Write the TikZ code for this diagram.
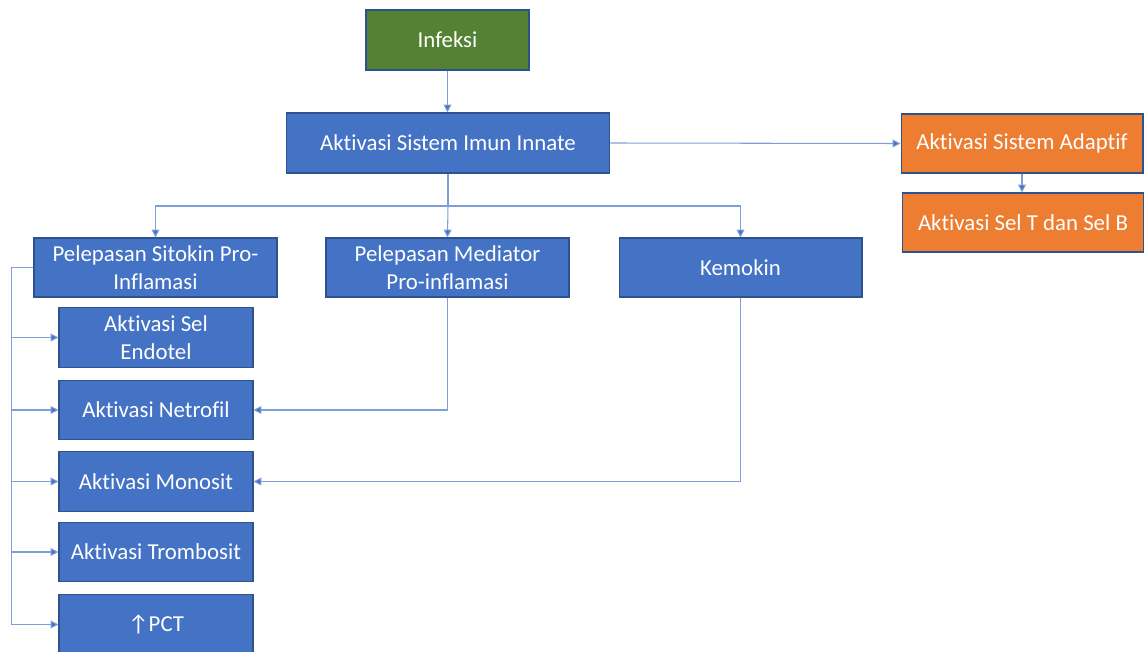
\documentclass[tikz,border=0pt]{standalone}
\usepackage{fontspec}
\setmainfont{Carlito}[RawFeature={-liga;-dlig;-clig}]
\usepackage{xcolor}
\usepackage{tikz}
\usetikzlibrary{arrows.meta}
\usetikzlibrary{positioning}
\definecolor{boxblue}{HTML}{4472C4}
\definecolor{boxline}{HTML}{2F528F}
\definecolor{boxgreen}{HTML}{548235}
\definecolor{boxorange}{HTML}{ED7D31}
\definecolor{linkblue}{HTML}{7F9FD9}
\tikzset{
    bnode/.style = {align=center, inner sep=0pt, text centered, rectangle, draw=boxline, line width=0.6pt, text=white, font=\fontsize{13}{15.6}\selectfont},
    blue_box/.style = {bnode, fill=boxblue, minimum width=4.86cm, minimum height=1.18cm},
    small_box/.style = {bnode, fill=boxblue, minimum width=3.88cm, minimum height=1.19cm},
    green_box/.style = {bnode, fill=boxgreen, minimum width=3.26cm, minimum height=1.2cm},
    orange_box/.style = {bnode, fill=boxorange, minimum width=4.84cm, minimum height=1.18cm},
    link/.style = {draw=linkblue, line width=0.6pt, -{Triangle[length=4.5pt,width=4.5pt,fill=boxblue]}}
}
\begin{document}
\begin{tikzpicture}[x=0.02cm, y=-0.02cm]
            \useasboundingbox (0,0) rectangle (1144,652);

            \node [green_box] (infeksi) at (447.5,40) {Infeksi};
            \node [blue_box, minimum width=6.48cm, minimum height=1.2cm] (innate) at (448,143) {Aktivasi Sistem Imun Innate};
            \node [orange_box] (adaptif) at (1022,143.5) {Aktivasi Sistem Adaptif};
            \node [orange_box] (seltb) at (1023,222.5) {Aktivasi Sel T dan Sel B};

            \node [blue_box] (sitokin) at (155.5,267.5) {Pelepasan Sitokin Pro-\\Inflamasi};
            \node [blue_box] (mediator) at (447.5,267.5) {Pelepasan Mediator\\Pro-inflamasi};
            \node [blue_box] (kemokin) at (740.5,267.5) {Kemokin};

            \node [small_box] (endotel) at (156,337.5) {Aktivasi Sel\\Endotel};
            \node [small_box] (netrofil) at (156,410) {Aktivasi Netrofil};
            \node [small_box] (monosit) at (156,481.5) {Aktivasi Monosit};
            \node [small_box] (trombosit) at (156,552) {Aktivasi Trombosit};
            \node [small_box] (pct) at (156,624.5) {↑PCT};

            \coordinate (bus) at (448,206);

            \draw [link] (infeksi.south) -- (infeksi.south |- innate.north);
            \draw [link] (innate.east) -- (adaptif.west);
            \draw [link] (adaptif.south) -- (adaptif.south |- seltb.north);
            \draw [draw=linkblue, line width=0.6pt] (innate.south) -- (bus);
            \draw [link] (bus) -| (sitokin.north);
            \draw [link] (bus) -- (mediator.north);
            \draw [link] (bus) -| (kemokin.north);

            \foreach \target in {endotel, netrofil, monosit, trombosit, pct}
                \draw [link] (sitokin.west) -- ++(-22,0) |- (\target.west);

            \draw [link] (mediator.south) |- (netrofil.east);
            \draw [link] (kemokin.south) |- (monosit.east);
\end{tikzpicture}
\end{document}
